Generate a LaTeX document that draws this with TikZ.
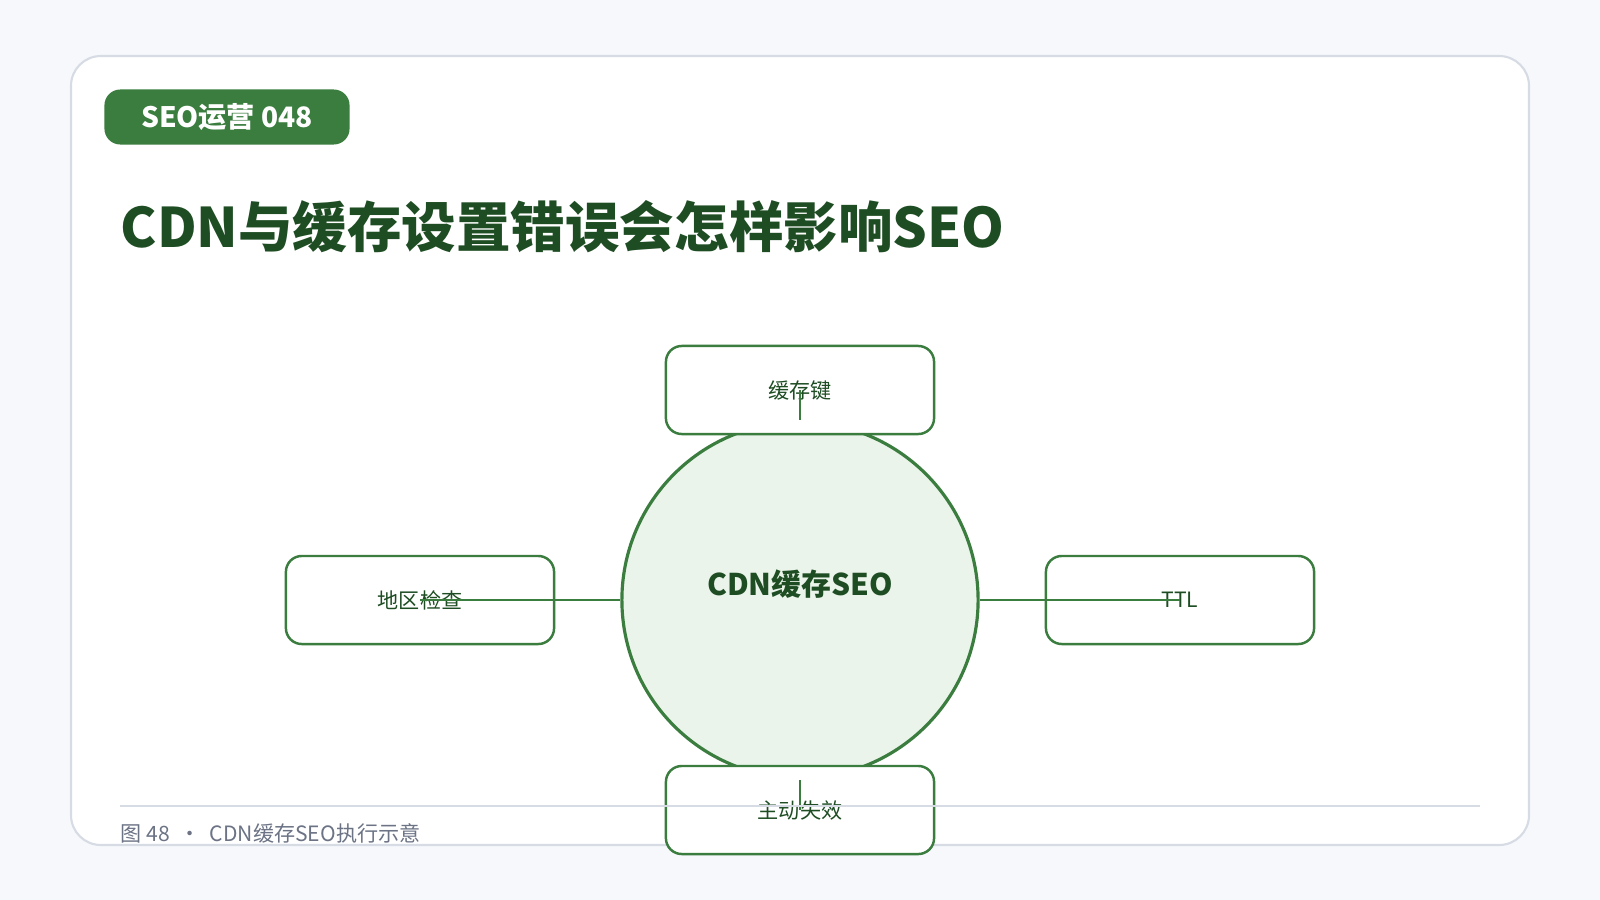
\documentclass[tikz,border=0pt]{standalone}
\usepackage{fontspec}
\setmainfont{Noto Sans CJK SC}
\usetikzlibrary{positioning}
\definecolor{bgpage}{HTML}{F6F8FC}
\definecolor{cardline}{HTML}{D6DBE4}
\definecolor{seogreen}{HTML}{3A7D3F}
\definecolor{darkgreen}{HTML}{1E4D23}
\definecolor{softgreen}{HTML}{EAF4EA}
\definecolor{footgray}{HTML}{6B7385}
\tikzset{
    x=0.01cm, y=-0.01cm,
    item/.style = {draw=seogreen, line width=0.7pt, fill=white, rounded corners=4.5pt, minimum width=2.68cm, minimum height=0.88cm, font=\fontsize{6}{7}\selectfont, text=darkgreen},
    hub/.style = {circle, draw=seogreen, line width=0.9pt, fill=softgreen, minimum size=3.56cm, font=\bfseries\fontsize{8.5}{10}\selectfont, text=darkgreen},
    link/.style = {draw=seogreen, line width=0.8pt}
}
\begin{document}
\begin{tikzpicture}
    \fill[bgpage] (0,0) rectangle (1600,900);
    \useasboundingbox (0,0) rectangle (1600,900);
    \draw[cardline, fill=white, line width=0.6pt, rounded corners=8.5pt] (71,56) rectangle (1529,845);
    \node[fill=seogreen, rounded corners=4.5pt, minimum width=2.45cm, minimum height=0.55cm, text=white, font=\bfseries\fontsize{8}{9}\selectfont] (badge) at (227,117) {SEO运营 048};
    \node[anchor=west, text=darkgreen, font=\bfseries\fontsize{15.5}{18}\selectfont, inner sep=0pt] (title) at (120,227) {CDN与缓存设置错误会怎样影响SEO};
    % hub and items
    \node[hub] (core) at (800,600) {};
    \node[text=darkgreen, font=\bfseries\fontsize{8.5}{10}\selectfont] (corelbl) at (800,584) {CDN缓存SEO};
    \node[item] (key) at (800,390) {缓存键};
    \node[item] (region) at (420,600) {地区检查};
    \node[item] (ttl) at (1180,600) {TTL};
    \node[item] (purge) at (800,810) {主动失效};
    \path[link] (key.center) -- (core);
    \path[link] (region.center) -- (core);
    \path[link] (ttl.center) -- (core);
    \path[link] (purge.center) -- (core);
    % footer
    \draw[cardline, line width=0.5pt] (120,806) -- (1480,806);
    \node[anchor=west, text=footgray, font=\fontsize{6}{7}\selectfont, inner sep=0pt] (foot) at (120,833) {图 48 \ • \ CDN缓存SEO执行示意};
\end{tikzpicture}
\end{document}
